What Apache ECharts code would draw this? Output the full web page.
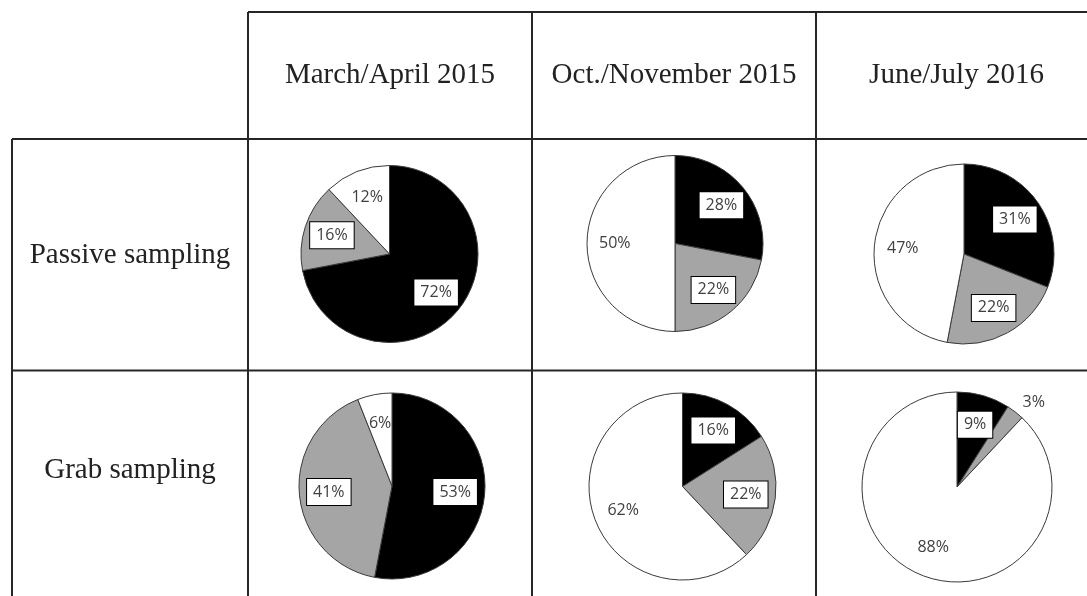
<!DOCTYPE html>
<html>
<head>
<meta charset="utf-8">
<script src="https://cdn.jsdelivr.net/npm/echarts@6/dist/echarts.min.js"></script>
<style>
  html, body { margin: 0; padding: 0; background: #fff; }
  #chart { width: 1087px; height: 596px; }
</style>
</head>
<body>
<div id="chart"></div>
<script>
// Column headings (sampling campaigns) and row headings (sampling methods)
const periods = ['March/April 2015', 'Oct./November 2015', 'June/July 2016'];
const methods = ['Passive sampling', 'Grab sampling'];

// Share classes in each pie, in clockwise order from 12 o'clock
const classes = ['Class 1', 'Class 2', 'Class 3'];

// Percentages per campaign (one inner array per column)
const passiveShares = [[72, 16, 12], [28, 22, 50], [31, 22, 47]];
const grabShares    = [[53, 41, 6],  [16, 22, 62], [9, 3, 88]];
const sharesByRow = [passiveShares, grabShares];

// ---- presentation ----
const sliceColors = ['#000000', '#a5a5a5', '#ffffff'];
const boxedLabel = [true, true, false];

// Table frame
const colEdges = [12, 248, 532, 816, 1097];
const rowEdges = [12, 139, 370.5, 610];
const rowLabelY = [255, 470];
const lineColor = '#262626';

// Pie placement inside each cell: [cx, cy, radius]
const pieLayout = [
  [[389.5, 254, 88.5], [675, 243.5, 88], [964, 254, 90]],
  [[392, 486, 93], [682.5, 486.5, 93.5], [957, 487, 95]]
];

const labelFont = { fontFamily: 'Open Sans', fontSize: 16, color: '#404040' };
const smallSlice = 5; // slices below this share get their label outside

function labelStyle(k) {
  const base = Object.assign({ formatter: '{c}%', lineHeight: 16 }, labelFont);
  if (boxedLabel[k]) {
    Object.assign(base, {
      backgroundColor: '#ffffff', borderColor: '#000000', borderWidth: 1, padding: [5, 6]
    });
  }
  return base;
}

const series = [];
sharesByRow.forEach((row, i) => {
  row.forEach((vals, j) => {
    const [cx, cy, r] = pieLayout[i][j];
    // visible pie
    series.push({
      type: 'pie',
      silent: true,
      center: [cx, cy],
      radius: r,
      startAngle: 90,
      clockwise: true,
      avoidLabelOverlap: false,
      itemStyle: { borderColor: '#3a3a3a', borderWidth: 1 },
      label: Object.assign({ show: false }, labelFont),
      labelLine: { show: false, length: 12, length2: 0 },
      data: vals.map((v, k) => ({
        value: v,
        name: classes[k],
        itemStyle: { color: sliceColors[k] },
        label: v < smallSlice
          ? Object.assign({ show: true, position: 'outside', distanceToLabelLine: 0 }, labelFont, { formatter: '{c}%' })
          : { show: false }
      }))
    });
    // transparent twin that carries the in-slice labels a bit further out
    series.push({
      type: 'pie',
      silent: true,
      z: 5,
      center: [cx, cy],
      radius: r * 1.3,
      startAngle: 90,
      clockwise: true,
      avoidLabelOverlap: false,
      itemStyle: { color: 'rgba(0,0,0,0)', borderWidth: 0 },
      labelLine: { show: false },
      data: vals.map((v, k) => ({
        value: v,
        name: classes[k],
        label: Object.assign({ show: v >= smallSlice, position: 'inside' }, labelStyle(k))
      }))
    });
  });
});

// Table lines and headings
const graphics = [];
const xMax = 1200, yMax = 700;
function hline(y, x1, x2) {
  graphics.push({ type: 'line', silent: true, shape: { x1, y1: y, x2, y2: y },
    style: { stroke: lineColor, lineWidth: 2 } });
}
function vline(x, y1, y2) {
  graphics.push({ type: 'line', silent: true, shape: { x1: x, y1, x2: x, y2 },
    style: { stroke: lineColor, lineWidth: 2 } });
}
hline(rowEdges[0], colEdges[1], xMax);
hline(rowEdges[1], colEdges[0], xMax);
hline(rowEdges[2], colEdges[0], xMax);
vline(colEdges[0], rowEdges[1], yMax);
for (let c = 1; c < colEdges.length; c++) vline(colEdges[c], rowEdges[0], yMax);

const headFont = { fontFamily: 'Liberation Serif', fontSize: 29 };
periods.forEach((p, j) => {
  graphics.push({ type: 'text', silent: true,
    style: Object.assign({ text: p, x: (colEdges[j + 1] + colEdges[j + 2]) / 2,
      y: (rowEdges[0] + rowEdges[1]) / 2, align: 'center', verticalAlign: 'middle',
      fill: '#222222' }, headFont) });
});
methods.forEach((m, i) => {
  graphics.push({ type: 'text', silent: true,
    style: Object.assign({ text: m, x: (colEdges[0] + colEdges[1]) / 2,
      y: rowLabelY[i], align: 'center', verticalAlign: 'middle',
      fill: '#222222' }, headFont) });
});

const chart = echarts.init(document.getElementById('chart'), null, { renderer: 'canvas' });
chart.setOption({
  animation: false,
  backgroundColor: '#ffffff',
  graphic: graphics,
  series
});
</script>
</body>
</html>
